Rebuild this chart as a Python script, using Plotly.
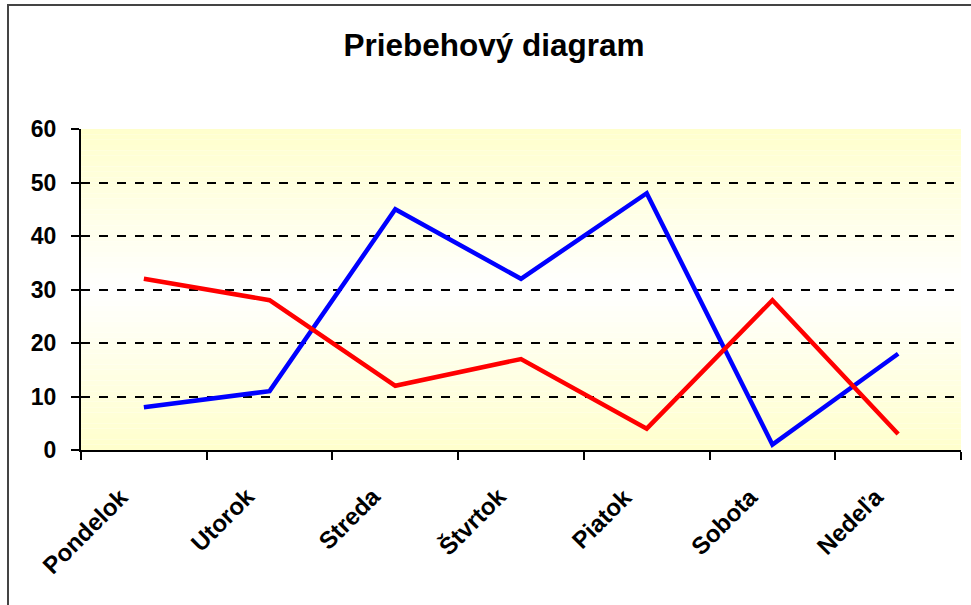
import plotly.graph_objects as go

days = ["Pondelok", "Utorok", "Streda", "Štvrtok", "Piatok", "Sobota", "Nedeľa"]
blue_values = [8, 11, 45, 32, 48, 1, 18]
red_values = [32, 28, 12, 17, 4, 28, 3]
y_ticks = [0, 10, 20, 30, 40, 50, 60]

FONT = "Liberation Sans, Arial, sans-serif"

fig = go.Figure()
fig.add_trace(go.Scatter(x=days, y=blue_values, mode="lines",
                         line=dict(color="#0000FF", width=4.5), name="Séria 1"))
fig.add_trace(go.Scatter(x=days, y=red_values, mode="lines",
                         line=dict(color="#FF0000", width=4.5), name="Séria 2"))

# gradient background: yellow at top/bottom, white at middle
shapes = []
n = 60
for i in range(n):
    t = (i + 0.5) / n
    d = abs(t - 0.5) * 2  # 0 at centre, 1 at edges
    r, g, b = 255, 255, round(255 - 51 * d)
    shapes.append(dict(type="rect", xref="x domain", yref="y domain",
                       x0=0, x1=1, y0=i / n, y1=(i + 1) / n,
                       fillcolor=f"rgb({r},{g},{b})", line=dict(width=0),
                       layer="below"))
# outer chart frame
shapes.append(dict(type="rect", xref="paper", yref="paper",
                   x0=(8 - 81) / 880, x1=1.2, y0=-1, y1=(450 - 5) / 321,
                   line=dict(color="#444444", width=2), fillcolor="rgba(0,0,0,0)"))

# rotated category labels, anchored by their top-right corner below each category
annotations = [
    dict(x=d, xref="x", y=0, yref="paper", text=f"<b>{d}</b>", showarrow=False,
         textangle=-45, xanchor="right", yanchor="top", xshift=-7, yshift=-30,
         font=dict(size=24, family=FONT, color="black"))
    for d in days
]

fig.update_layout(
    width=971, height=605,
    margin=dict(l=81, r=10, t=129, b=155, autoexpand=False),
    paper_bgcolor="white",
    plot_bgcolor="rgba(0,0,0,0)",
    showlegend=False,
    shapes=shapes,
    annotations=annotations,
    font=dict(family=FONT, color="black"),
    title=dict(text="<b>Priebehový diagram</b>", x=494 / 971, xref="container", xanchor="center",
               y=1 - 45 / 605, yref="container", yanchor="middle",
               font=dict(size=31.5, family=FONT, color="black")),
)
fig.update_xaxes(
    type="category", range=[-0.5, 6.5], automargin=False,
    showgrid=False, showline=True, linecolor="black", linewidth=2,
    ticks="outside", tickson="boundaries", ticklen=8, tickwidth=2, tickcolor="black",
    showticklabels=False, zeroline=False,
)
fig.update_yaxes(
    range=[0, 60], tickvals=y_ticks, ticktext=[f"<b>{v}</b>" for v in y_ticks],
    automargin=False,
    showgrid=True, gridcolor="black", griddash="dash", gridwidth=1.5,
    showline=True, linecolor="black", linewidth=2,
    ticks="outside", ticklen=8, tickwidth=2, tickcolor="black",
    tickfont=dict(size=23, family=FONT, color="black"),
    ticklabelstandoff=10, zeroline=False,
)
fig.write_html("out.html", config={"displayModeBar": False},
               post_script="document.body.style.margin='0';")
